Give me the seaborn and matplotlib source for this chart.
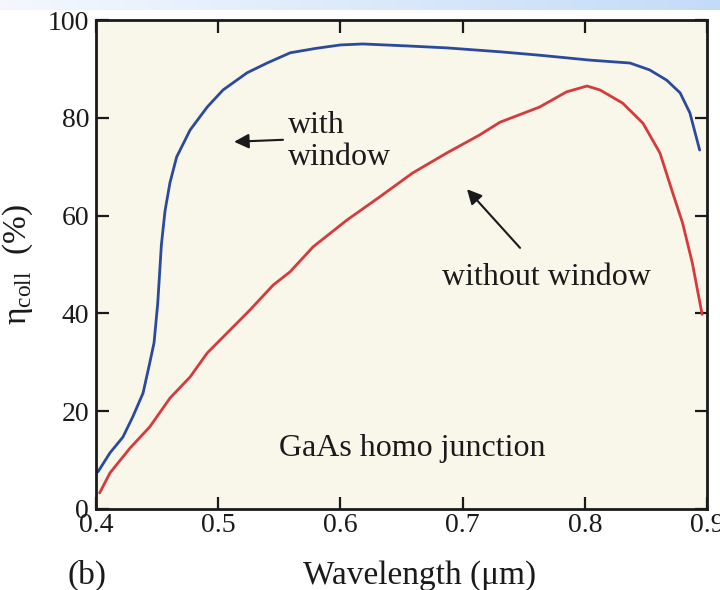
"""GaAs 同质结收集效率曲线（有/无窗口层）"""

import numpy as np
import pandas as pd
import matplotlib
matplotlib.use("Agg")
import matplotlib.pyplot as plt
from matplotlib.colors import LinearSegmentedColormap
import seaborn as sns

# 有窗口层
wl_with = [0.4016, 0.4115, 0.422, 0.430, 0.4385, 0.444, 0.4475, 0.4505, 0.4535, 0.4565,
           0.4605, 0.466, 0.477, 0.491, 0.504, 0.5236, 0.540, 0.559, 0.580, 0.600,
           0.6185, 0.6545, 0.687, 0.7306, 0.763, 0.804, 0.837, 0.853, 0.867, 0.878,
           0.886, 0.894]
eta_with = [7.6, 11.5, 14.7, 18.8, 23.7, 29.9, 34.0, 42.0, 54.0, 61.0,
            66.7, 72.0, 77.5, 82.2, 85.7, 89.2, 91.2, 93.3, 94.2, 94.9,
            95.1, 94.7, 94.3, 93.5, 92.8, 91.8, 91.2, 89.8, 87.7, 85.1,
            81.0, 73.4]

# 无窗口层
wl_without = [0.403, 0.4115, 0.428, 0.444, 0.4606, 0.477, 0.491, 0.5097, 0.526, 0.545,
              0.5588, 0.5776, 0.6054, 0.632, 0.659, 0.687, 0.714, 0.7306, 0.763, 0.785,
              0.8018, 0.8124, 0.831, 0.8476, 0.8615, 0.872, 0.880, 0.888, 0.896]
eta_without = [3.3, 7.4, 12.5, 16.8, 22.7, 27.0, 31.9, 36.6, 40.7, 45.8,
               48.5, 53.6, 59.1, 63.8, 68.7, 72.8, 76.5, 79.1, 82.2, 85.3,
               86.5, 85.7, 83.0, 78.9, 72.8, 64.6, 58.5, 50.3, 39.8]

x_ticks = [0.4, 0.5, 0.6, 0.7, 0.8, 0.9]
x_ticklabels = ["0.4", "0.5", "0.6", "0.7", "0.8", "0.9"]
y_ticks = [0, 20, 40, 60, 80, 100]
y_ticklabels = ["0", "20", "40", "60", "80", "100"]

df = pd.concat([
    pd.DataFrame({"wl": wl_with, "eta": eta_with, "case": "with"}),
    pd.DataFrame({"wl": wl_without, "eta": eta_without, "case": "without"}),
])

sns.set_style("ticks")
plt.rcParams["font.family"] = ["Liberation Serif", "DejaVu Serif"]
plt.rcParams["mathtext.fontset"] = "custom"
plt.rcParams["mathtext.rm"] = "Liberation Serif"

fig = plt.figure(figsize=(7.2, 5.9), dpi=100)
fig.patch.set_facecolor("white")

# 顶部淡蓝渐变条（幻灯片背景）
band = fig.add_axes([0, 1 - 10 / 590, 1, 10 / 590], zorder=-1)
cmap = LinearSegmentedColormap.from_list("band", ["#f4f8fe", "#c4dbf8"])
band.imshow(np.linspace(0, 1, 256)[None, :], cmap=cmap, aspect="auto")
band.axis("off")

ax = fig.add_axes([96 / 720, 1 - 509 / 590, 611 / 720, 489 / 590])
ax.set_facecolor("#f9f6ea")

sns.lineplot(data=df, x="wl", y="eta", hue="case",
             palette={"with": "#2b4a9b", "without": "#d63a3c"},
             linewidth=2.0, legend=False, ax=ax, sort=False)

ax.set_xlim(0.4, 0.9)
ax.set_ylim(0, 100)
ax.set_xticks(x_ticks)
ax.set_xticklabels(x_ticklabels)
ax.set_yticks(y_ticks)
ax.set_yticklabels(y_ticklabels)
ax.tick_params(direction="in", length=9, width=1.6, labelsize=20,
               top=True, right=True, colors="#1a1a1a")
ax.tick_params(axis="x", pad=3)
ax.tick_params(axis="y", pad=5)
for s in ax.spines.values():
    s.set_linewidth(2.0)
    s.set_color("#1a1a1a")

ax.set_xlabel("Wavelength (μm)", fontsize=24, color="#1a1a1a")
ax.xaxis.set_label_coords(0.53, -0.104)
ax.set_ylabel("η$_{\\mathregular{coll}}$  (%)", fontsize=24, color="#1a1a1a")
ax.yaxis.set_label_coords(-0.10, 0.5)
ax.text(-0.046, -0.135, "(b)", transform=ax.transAxes, fontsize=24,
        ha="left", va="center", color="#1a1a1a")

# 标注
ax.text(0.557, 78.5, "with", fontsize=23, ha="left", va="center", color="#1a1a1a")
ax.text(0.557, 71.8, "window", fontsize=23, ha="left", va="center", color="#1a1a1a")
ax.annotate("", xy=(0.513, 75.1), xytext=(0.553, 75.5),
            arrowprops=dict(arrowstyle="-|>", mutation_scale=22, lw=1.5,
                            color="#1a1a1a", shrinkA=0, shrinkB=0))
ax.text(0.769, 47.4, "without window", fontsize=23, ha="center", va="center",
        color="#1a1a1a")
ax.annotate("", xy=(0.7036, 65.4), xytext=(0.747, 53.4),
            arrowprops=dict(arrowstyle="-|>", mutation_scale=22, lw=1.5,
                            color="#1a1a1a", shrinkA=0, shrinkB=0))
ax.text(0.6586, 12.3, "GaAs homo junction", fontsize=23, ha="center", va="center",
        color="#1a1a1a")

fig.savefig("out.png", dpi=100)
